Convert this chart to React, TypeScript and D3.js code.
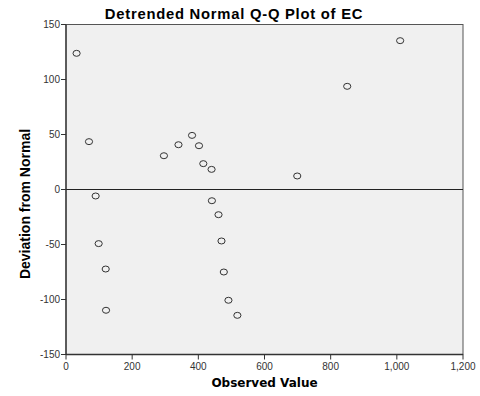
import React from "react";
import * as d3 from "d3";

const observed = [32, 69.5, 296, 340, 381, 402, 415, 440, 1010, 850, 699, 89.6, 98.7, 120, 121, 441, 461, 470, 477, 491, 518];
const deviation = [123.8, 43.5, 30.7, 40.7, 49.2, 39.8, 23.5, 18.3, 135.3, 93.8, 12.3, -5.9, -49.2, -72.3, -109.8, -10.2, -22.9, -46.8, -75, -100.7, -114.4];
const xTicks = [0, 200, 400, 600, 800, 1000, 1200];
const yTicks = [-150, -100, -50, 0, 50, 100, 150];

const W = 480;
const H = 396;
const left = 66;
const right = 463;
const top = 24.5;
const bottom = 354.5;
const font = "'Liberation Sans', Arial, sans-serif";

export default function App() {
  const x = d3.scaleLinear().domain([0, 1200]).range([left, right]);
  const y = d3.scaleLinear().domain([-150, 150]).range([bottom, top]);
  const fmt = d3.format(",");

  return (
    <svg width={W} height={H} style={{ position: "absolute", left: 0, top: 0 }}>
      <rect x={0} y={0} width={W} height={H} fill="#fff" />
      <text x={234} y={18.5} textAnchor="middle" fontFamily={font} fontWeight="bold" fontSize={14.8} letterSpacing={0.75} fill="#000">
        Detrended Normal Q-Q Plot of EC
      </text>
      <rect x={left} y={top} width={right - left} height={bottom - top} fill="#f0f0f0" stroke="#555" strokeWidth={1} />
      <line x1={left} x2={right} y1={y(0)} y2={y(0)} stroke="#222" strokeWidth={1.2} />
      <line x1={left} x2={left} y1={top} y2={bottom} stroke="#333" strokeWidth={1.3} />
      <line x1={left} x2={right} y1={bottom} y2={bottom} stroke="#333" strokeWidth={1.3} />
      {yTicks.map((t) => (
        <g key={"y" + t}>
          <line x1={left - 5} x2={left} y1={y(t)} y2={y(t)} stroke="#333" />
          <text x={left - 6} y={y(t) + 3.5} textAnchor="end" fontFamily={font} fontSize={10} fill="#333">
            {t}
          </text>
        </g>
      ))}
      {xTicks.map((t) => (
        <g key={"x" + t}>
          <line x1={x(t)} x2={x(t)} y1={bottom} y2={bottom + 5} stroke="#333" />
          <text x={x(t)} y={bottom + 15} textAnchor="middle" fontFamily={font} fontSize={10} fill="#333">
            {fmt(t)}
          </text>
        </g>
      ))}
      <text x={(left + right) / 2} y={387} textAnchor="middle" fontFamily="'DejaVu Sans', Verdana, sans-serif" fontWeight="bold" fontSize={12} fill="#000">
        Observed Value
      </text>
      <text transform="translate(30,204) rotate(-90)" textAnchor="middle" fontFamily={font} fontWeight="bold" fontSize={14} fill="#000">
        Deviation from Normal
      </text>
      {observed.map((v, i) => (
        <ellipse key={i} cx={x(v)} cy={y(deviation[i])} rx={3.6} ry={3} fill="none" stroke="#333" strokeWidth={1} />
      ))}
    </svg>
  );
}
